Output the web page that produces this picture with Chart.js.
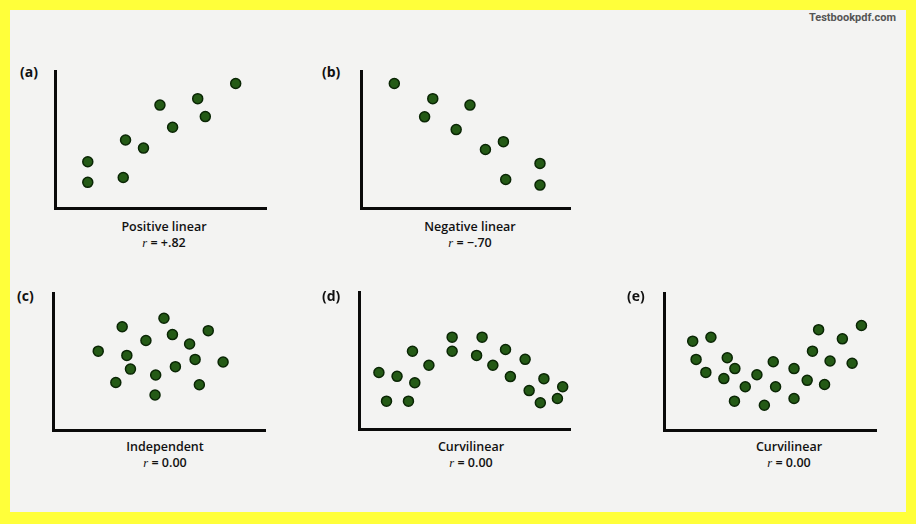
<!DOCTYPE html>
<html>
<head>
<meta charset="utf-8">
<script src="https://cdn.jsdelivr.net/npm/chart.js@4/dist/chart.umd.min.js"></script>
<style>
  html, body { margin: 0; padding: 0; }
  body { width: 916px; height: 524px; background: #ffff3a; position: relative; overflow: hidden; font-family: "Open Sans", "Noto Sans", sans-serif; }
  #sheet { position: absolute; left: 10px; top: 10px; width: 896px; height: 502px; background: #f3f3f2; }
  .box { position: absolute; }
  .lbl { position: absolute; font-size: 14px; font-weight: 700; color: #111; }
  .cap { position: absolute; width: 200px; text-align: center; font-size: 12.5px; font-weight: 600; color: #111; line-height: 16px; }
  .cap i { font-family: "Liberation Serif", serif; font-weight: 400; }
  #mark { position: absolute; right: 20px; top: 11px; font-size: 11px; font-weight: 700; color: #555; font-family: Roboto, sans-serif; }
</style>
</head>
<body>
<div id="sheet"></div>
<div id="mark">Testbookpdf.com</div>

<div class="box" style="left:49px;top:65px;width:224px;height:150px"><canvas id="pa"></canvas></div>
<div class="box" style="left:355px;top:65px;width:222px;height:150px"><canvas id="pb"></canvas></div>
<div class="box" style="left:47px;top:287px;width:225px;height:150px"><canvas id="pc"></canvas></div>
<div class="box" style="left:353px;top:286px;width:224px;height:150px"><canvas id="pd"></canvas></div>
<div class="box" style="left:658px;top:287px;width:225px;height:150px"><canvas id="pe"></canvas></div>

<div class="lbl" style="left:20px;top:62px">(a)</div>
<div class="lbl" style="left:322px;top:62px">(b)</div>
<div class="lbl" style="left:17px;top:286px">(c)</div>
<div class="lbl" style="left:322px;top:286px">(d)</div>
<div class="lbl" style="left:627px;top:286px">(e)</div>

<div class="cap" style="left:64px;top:219px">Positive linear<br><i>r</i> = +.82</div>
<div class="cap" style="left:370px;top:219px">Negative linear<br><i>r</i> = &minus;.70</div>
<div class="cap" style="left:65px;top:439px">Independent<br><i>r</i> = 0.00</div>
<div class="cap" style="left:371px;top:439px">Curvilinear<br><i>r</i> = 0.00</div>
<div class="cap" style="left:689px;top:439px">Curvilinear<br><i>r</i> = 0.00</div>

<script>
// values, both axes on a 0-10 scale
const aX = [8.54, 6.74, 4.95, 7.10, 5.55, 3.32, 4.17, 1.53, 3.21, 1.53];
const aY = [9.12, 8.02, 7.55, 6.71, 5.93, 5.00, 4.41, 3.41, 2.26, 1.91];

const bX = [1.57, 3.41, 5.19, 3.02, 4.53, 6.79, 5.93, 8.54, 6.90, 8.54];
const bY = [9.12, 8.02, 7.55, 6.69, 5.76, 4.88, 4.31, 3.29, 2.12, 1.71];

const cX = [5.21, 3.24, 7.30, 5.61, 4.36, 6.42, 2.11, 3.46, 6.68, 8.00, 5.75, 3.63, 4.82, 2.94, 6.88, 4.79];
const cY = [8.19, 7.57, 7.29, 7.00, 6.57, 6.31, 5.79, 5.48, 5.19, 5.00, 4.66, 4.48, 4.05, 3.50, 3.34, 2.59];

const dX = [0.92, 1.78, 2.62, 1.28, 2.32, 2.51, 3.29, 4.39, 4.39, 5.81, 5.55, 6.32, 6.92, 7.85, 7.15, 8.74, 8.04, 9.63, 8.57, 9.38];
const dY = [4.16, 3.88, 3.41, 2.07, 2.07, 5.71, 4.69, 6.74, 5.71, 6.74, 5.41, 4.69, 5.84, 5.12, 3.86, 3.71, 2.84, 3.12, 1.95, 2.26];

const eX = [1.33, 2.19, 1.49, 2.96, 1.95, 3.32, 2.80, 4.36, 3.81, 3.30, 5.13, 5.24, 4.71, 6.11, 6.11, 6.73, 7.55, 6.98, 7.27, 7.81, 8.39, 8.85, 9.29];
const eY = [6.52, 6.81, 5.19, 5.31, 4.24, 4.52, 3.79, 4.07, 3.19, 2.14, 5.02, 3.19, 1.84, 4.52, 2.34, 3.66, 3.36, 5.79, 7.36, 5.07, 6.69, 4.91, 7.66];

function pts(xs, ys) {
  return xs.map((x, i) => ({ x: x, y: ys[i] }));
}

function axis() {
  return {
    min: 0,
    max: 10,
    ticks: { display: false },
    grid: { display: false, drawTicks: false },
    border: { display: true, color: '#0a0a0a', width: 3 }
  };
}

function scatter(id, xs, ys) {
  new Chart(document.getElementById(id), {
    type: 'scatter',
    data: {
      datasets: [{
        data: pts(xs, ys),
        backgroundColor: '#245a16',
        borderColor: '#0a2605',
        borderWidth: 1.5,
        pointRadius: 5,
        pointHoverRadius: 5
      }]
    },
    options: {
      responsive: true,
      maintainAspectRatio: false,
      animation: false,
      layout: { padding: 5 },
      plugins: {
        legend: { display: false },
        tooltip: { enabled: false }
      },
      scales: { x: axis(), y: axis() }
    }
  });
}

scatter('pa', aX, aY);
scatter('pb', bX, bY);
scatter('pc', cX, cY);
scatter('pd', dX, dY);
scatter('pe', eX, eY);
</script>
</body>
</html>
